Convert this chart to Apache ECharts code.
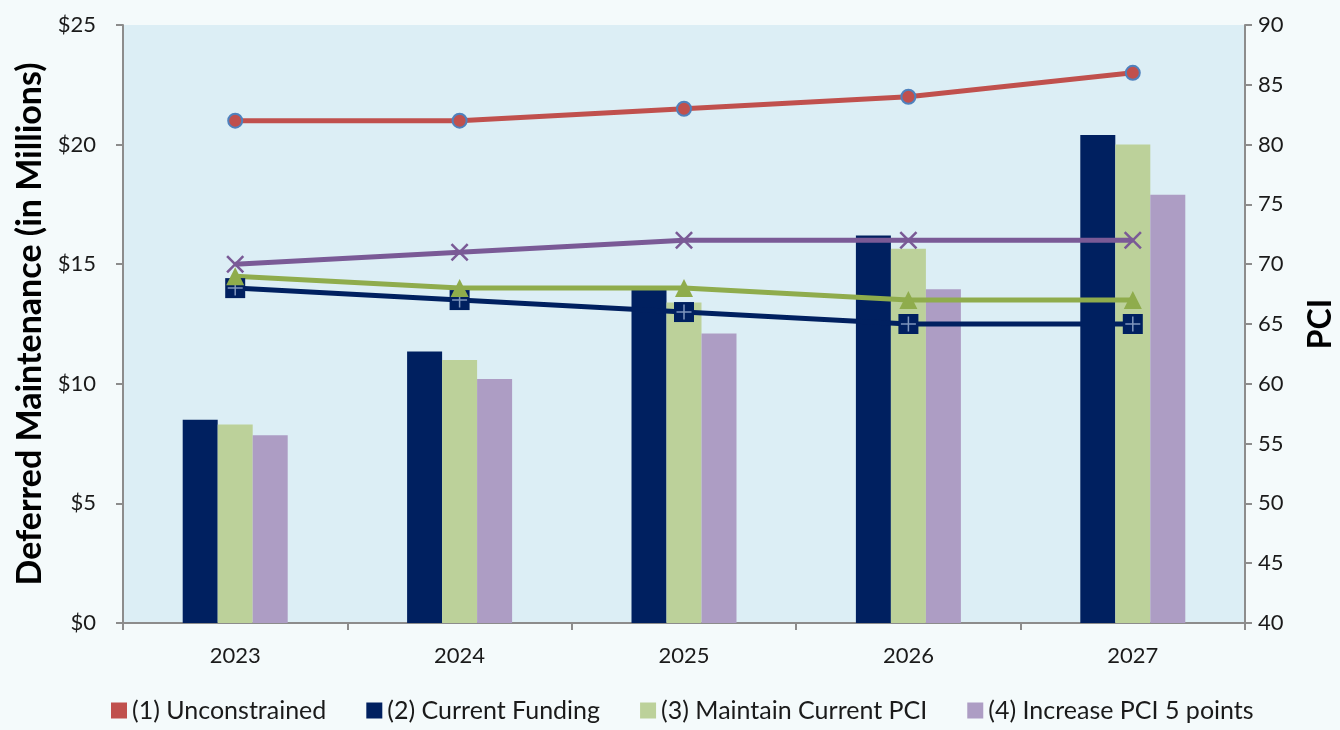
<!DOCTYPE html>
<html>
<head>
<meta charset="utf-8">
<script src="https://cdn.jsdelivr.net/npm/echarts@6/dist/echarts.min.js"></script>
<style>
  html, body { margin: 0; padding: 0; background: #f4fafb; }
  #chart { width: 1340px; height: 730px; }
</style>
</head>
<body>
<div id="chart"></div>
<script>
// data
var years = ["2023", "2024", "2025", "2026", "2027"];
var names = ["(1) Unconstrained", "(2) Current Funding", "(3) Maintain Current PCI", "(4) Increase PCI 5 points"];
// deferred maintenance, $ millions (bars)
var dmCurrent  = [8.5, 11.35, 14.0, 16.2, 20.4];
var dmMaintain = [8.3, 11.0, 13.4, 15.65, 20.0];
var dmIncrease = [7.85, 10.2, 12.1, 13.95, 17.9];
// PCI (lines, right axis)
var pciUnconstrained = [82, 82, 83, 84, 86];
var pciCurrent  = [68, 67, 66, 65, 65];
var pciMaintain = [69, 68, 68, 67, 67];
var pciIncrease = [70, 71, 72, 72, 72];

var RED = "#c0504d", NAVY = "#002060", GREEN = "#8fac4c", LGREEN = "#bcd19a", PURPLE = "#7a5a96", LPURPLE = "#ad9dc4";
var FONT = "Lato";

var xPath = "path://M2 0 L10 8 L18 0 L20 2 L12 10 L20 18 L18 20 L10 12 L2 20 L0 18 L8 10 L0 2 Z";
var plusPath = "path://M9 0 H11 V9 H20 V11 H11 V20 H9 V11 H0 V9 H9 Z";

var chart = echarts.init(document.getElementById("chart"));
chart.setOption({
  backgroundColor: "#f4fafb",
  textStyle: { fontFamily: FONT },
  grid: {
    left: 123, right: 95, top: 25, bottom: 107,
    outerBoundsMode: "none",
    containLabel: false,
    show: true, backgroundColor: "#dceef5", borderWidth: 0
  },
  legend: {
    data: names.map(function (n, i) {
      return { name: n, itemStyle: { color: [RED, NAVY, LGREEN, LPURPLE][i], borderWidth: 0 } };
    }),
    icon: "rect",
    itemWidth: 16, itemHeight: 16, itemGap: 40,
    bottom: 2, left: 106,
    textStyle: { fontSize: 25, color: "#1a1a1a", fontFamily: FONT }
  },
  xAxis: {
    type: "category",
    data: years,
    boundaryGap: true,
    axisLine: { lineStyle: { color: "#8c8c8c", width: 2 } },
    axisTick: { show: true, length: 7, lineStyle: { color: "#8c8c8c", width: 2 } },
    axisLabel: { fontSize: 22, color: "#1a1a1a", margin: 22 }
  },
  yAxis: [
    {
      type: "value", min: 0, max: 25, interval: 5,
      name: "Deferred Maintenance (in Millions)",
      nameLocation: "middle", nameGap: 76, nameRotate: 90,
      nameTextStyle: { fontSize: 34, fontWeight: "bold", color: "#000" },
      splitLine: { show: false },
      axisLine: { show: true, lineStyle: { color: "#8c8c8c", width: 2 } },
      axisTick: { show: true, length: 7, lineStyle: { color: "#8c8c8c", width: 2 } },
      axisLabel: { fontSize: 22, color: "#1a1a1a", margin: 27, formatter: function (v) { return "$" + v; } }
    },
    {
      type: "value", min: 40, max: 90, interval: 5,
      name: "PCI",
      nameLocation: "middle", nameGap: 60, nameRotate: 90,
      nameTextStyle: { fontSize: 32, fontWeight: "bold", color: "#000" },
      splitLine: { show: false },
      axisLine: { show: true, lineStyle: { color: "#8c8c8c", width: 2 } },
      axisTick: { show: true, length: 7, lineStyle: { color: "#8c8c8c", width: 2 } },
      axisLabel: { fontSize: 22, color: "#1a1a1a", margin: 13 }
    }
  ],
  series: [
    { name: names[1], type: "bar", data: dmCurrent, barWidth: 35, barGap: "0%", itemStyle: { color: NAVY } },
    { name: names[2], type: "bar", data: dmMaintain, barWidth: 35, barGap: "0%", itemStyle: { color: LGREEN } },
    { name: names[3], type: "bar", data: dmIncrease, barWidth: 35, barGap: "0%", itemStyle: { color: LPURPLE } },
    {
      name: names[0], type: "line", yAxisIndex: 1, data: pciUnconstrained,
      symbol: "circle", symbolSize: 14,
      lineStyle: { color: RED, width: 5 },
      itemStyle: { color: RED, borderColor: "#4f81bd", borderWidth: 2 }
    },
    {
      name: names[1], type: "line", yAxisIndex: 1, data: pciCurrent,
      symbol: "rect", symbolSize: 20,
      lineStyle: { color: NAVY, width: 5 },
      itemStyle: { color: NAVY }
    },
    {
      name: "pciCurrentCross", type: "scatter", yAxisIndex: 1, data: pciCurrent,
      symbol: plusPath, symbolSize: 15, silent: true, z: 3,
      itemStyle: { color: "#9fb4d4" }
    },
    {
      name: names[2], type: "line", yAxisIndex: 1, data: pciMaintain,
      symbol: "triangle", symbolSize: 18,
      lineStyle: { color: GREEN, width: 5 },
      itemStyle: { color: GREEN }
    },
    {
      name: names[3], type: "line", yAxisIndex: 1, data: pciIncrease,
      symbol: xPath, symbolSize: 18,
      lineStyle: { color: PURPLE, width: 5 },
      itemStyle: { color: PURPLE }
    }
  ]
});
</script>
</body>
</html>
